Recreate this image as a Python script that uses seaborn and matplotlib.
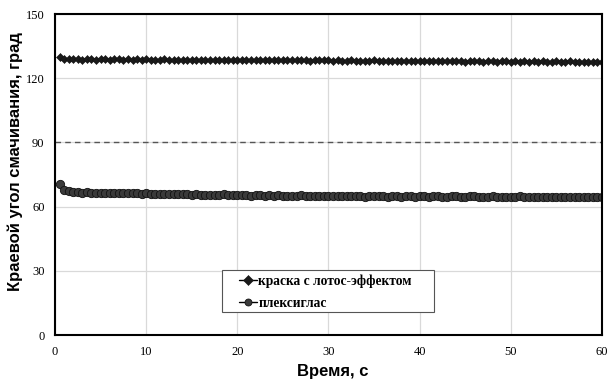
import numpy as np
import pandas as pd
import matplotlib
matplotlib.use("Agg")
import matplotlib.pyplot as plt
import matplotlib.patches as mpatches
import seaborn as sns

time_s = [0.5 * (i + 1) for i in range(120)]

kraska = [
    130.0, 129.2, 128.9, 128.8, 128.9, 128.7, 128.8, 128.9, 128.7, 128.8,
    128.9, 128.7, 128.8, 128.8, 128.6, 128.9, 128.7, 128.8, 128.7, 128.8,
    128.5, 128.7, 128.6, 128.8, 128.6, 128.5, 128.7, 128.6, 128.5, 128.7,
    128.6, 128.5, 128.7, 128.6, 128.5, 128.6, 128.7, 128.5, 128.6, 128.5,
    128.5, 128.3, 128.4, 128.6, 128.4, 128.3, 128.5, 128.4, 128.3, 128.5,
    128.4, 128.3, 128.5, 128.3, 128.4, 128.2, 128.4, 128.3, 128.5, 128.3,
    128.1, 128.3, 128.2, 128.1, 128.3, 128.2, 128.0, 128.2, 128.1, 128.3,
    128.1, 128.0, 128.2, 128.1, 128.0, 128.2, 128.1, 127.9, 128.1, 128.0,
    128.1, 127.9, 128.0, 128.2, 127.9, 128.0, 128.1, 127.9, 128.0, 127.8,
    128.0, 127.9, 128.1, 127.8, 128.0, 127.9, 127.8, 128.0, 127.9, 127.8,
    128.0, 127.8, 127.9, 127.7, 127.9, 127.8, 127.9, 127.7, 127.8, 127.9,
    127.7, 127.8, 127.9, 127.7, 127.8, 127.7, 127.8, 127.6, 127.7, 127.7,
]

pleksiglas = [
    70.5, 67.8, 67.2, 66.8, 66.9, 66.6, 66.7, 66.5, 66.6, 66.4,
    66.5, 66.3, 66.6, 66.4, 66.2, 66.5, 66.3, 66.2, 66.1, 66.3,
    66.0, 66.1, 65.9, 65.8, 66.0, 65.9, 65.7, 65.8, 65.9, 65.6,
    65.7, 65.5, 65.6, 65.4, 65.5, 65.6, 65.9, 65.4, 65.3, 65.5,
    65.3, 65.4, 65.2, 65.3, 65.5, 65.1, 65.3, 65.2, 65.4, 65.1,
    65.2, 65.0, 65.1, 65.3, 64.9, 65.0, 65.2, 64.9, 65.0, 65.1,
    64.9, 65.0, 64.8, 65.1, 64.9, 64.8, 65.0, 64.7, 64.9, 65.0,
    64.8, 64.9, 64.7, 64.8, 65.0, 64.6, 64.8, 64.9, 64.7, 64.8,
    64.9, 64.7, 64.8, 65.0, 64.7, 64.7, 64.8, 64.9, 64.6, 64.7,
    64.8, 64.9, 64.6, 64.7, 64.6, 64.8, 64.6, 64.5, 64.7, 64.6,
    64.7, 64.8, 64.5, 64.6, 64.7, 64.4, 64.6, 64.7, 64.5, 64.6,
    64.4, 64.6, 64.7, 64.4, 64.5, 64.6, 64.4, 64.4, 64.5, 64.5,
]

label_1 = "краска с лотос-эффектом"
label_2 = "плексиглас"
ref_level = 90
x_ticks = [0, 10, 20, 30, 40, 50, 60]
y_ticks = [0, 30, 60, 90, 120, 150]

df = pd.DataFrame({
    "t": time_s * 2,
    "angle": kraska + pleksiglas,
    "series": [label_1] * len(kraska) + [label_2] * len(pleksiglas),
})

sns.set_style("white")
plt.rcParams["font.family"] = ["Liberation Serif", "DejaVu Serif"]
plt.rcParams["text.color"] = "black"

fig = plt.figure(figsize=(6.08, 3.79), dpi=100)
ax = fig.add_axes([0.0905, 0.116, 0.8995, 0.847])

sns.lineplot(data=df[df.series == label_1], x="t", y="angle", ax=ax,
             color="black", marker="D", markersize=4.2, markeredgewidth=0.4,
             markeredgecolor="#111111", markerfacecolor="#1a1a1a",
             linewidth=1.0, label=label_1, legend=False)
sns.lineplot(data=df[df.series == label_2], x="t", y="angle", ax=ax,
             color="black", marker="o", markersize=6, markeredgewidth=0.6,
             markeredgecolor="#111111", markerfacecolor="#3a3a3a",
             linewidth=1.0, label=label_2, legend=False)

ax.axhline(ref_level, color="#555555", linestyle=(0, (4, 3)), linewidth=1.0, zorder=1)

ax.set_xlim(0, 60)
ax.set_ylim(0, 150)
ax.set_xticks(x_ticks)
ax.set_yticks(y_ticks)
ax.grid(True, color="#d9d9d9", linewidth=0.9)
ax.set_axisbelow(True)
for sp in ax.spines.values():
    sp.set_color("black")
    sp.set_linewidth(1.5)
    sp.set_visible(True)
ax.tick_params(axis="both", direction="out", length=4, width=0.8,
               labelsize=9, colors="black")
ax.tick_params(axis="x", pad=4)

ax.set_xlabel("Время, с", fontsize=12, fontweight="bold", color="black",
              family=["Liberation Sans", "DejaVu Sans"])
ax.set_ylabel("Краевой угол смачивания, град", fontsize=12, fontweight="bold",
              color="black", family=["Liberation Sans", "DejaVu Sans"])
ax.xaxis.set_label_coords(0.508, -0.09)
ax.yaxis.set_label_coords(-0.058, 0.54)

# legend box
box = mpatches.Rectangle((0.3053, 0.0717), 0.3876, 0.1308, transform=ax.transAxes,
                         facecolor="white", edgecolor="#555555", linewidth=0.8,
                         zorder=4)
ax.add_patch(box)

leg = ax.legend(loc="upper left", bbox_to_anchor=(0.336, 0.190), borderaxespad=0,
                frameon=False,
                prop={"family": ["Liberation Serif"], "weight": "bold", "size": 9.75},
                handlelength=1.35, handletextpad=0.1, borderpad=0.0, labelspacing=0.7)
leg.set_zorder(5)
for h in leg.legend_handles:
    h.set_markersize(5)

fig.savefig("out.png", dpi=100)
